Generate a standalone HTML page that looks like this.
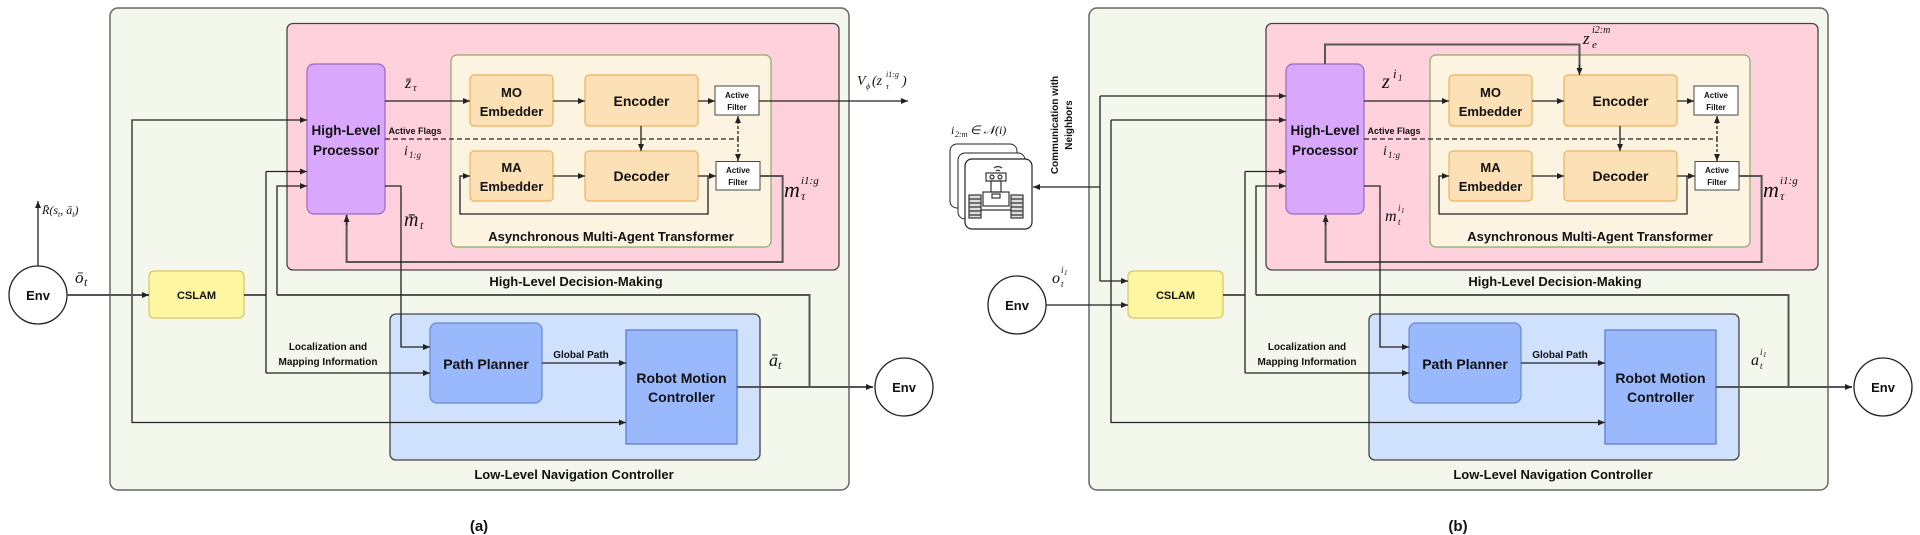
<!DOCTYPE html>
<html><head><meta charset="utf-8"><style>
html,body{margin:0;padding:0;background:#fff;}
svg{display:block;}
.b{font-family:"Liberation Sans",sans-serif;font-weight:bold;fill:#111;text-anchor:middle;}
.m{font-family:"Liberation Serif",serif;font-style:italic;fill:#111;}
.ln{fill:none;stroke:#222;stroke-width:1.3;}
.lg{fill:none;stroke:#555;stroke-width:2;}
</style></head><body>
<svg width="1920" height="535" viewBox="0 0 1920 535" xmlns="http://www.w3.org/2000/svg">
<defs>
<marker id="ar" markerWidth="8" markerHeight="8" refX="7" refY="4" orient="auto" markerUnits="userSpaceOnUse"><path d="M0,1 L7,4 L0,7 z" fill="#222"/></marker>
</defs>

<!-- ================= PANEL A ================= -->
<g>
<rect x="110" y="8" width="739" height="482" rx="8" fill="#f4f7eb" stroke="#666" stroke-width="1.5"/>
<rect x="287" y="23.5" width="552" height="246.5" rx="6" fill="#ffd1dd" stroke="#444" stroke-width="1.3"/>
<rect x="451" y="55" width="320" height="192" rx="6" fill="#fdf3e1" stroke="#8aaa6a" stroke-width="1.2"/>
<rect x="307" y="64" width="78" height="150" rx="7" fill="#d9a7fb" stroke="#9a6ac0" stroke-width="1.2"/>
<text class="b" x="346" y="135" font-size="13.5">High-Level</text>
<text class="b" x="346" y="155" font-size="13.5">Processor</text>
<rect x="470" y="75" width="83" height="51" rx="4" fill="#fde1b6" stroke="#eeb25a" stroke-width="1.2"/>
<text class="b" x="511.5" y="97" font-size="13">MO</text><text class="b" x="511.5" y="116" font-size="13">Embedder</text>
<rect x="585" y="75" width="113" height="51" rx="4" fill="#fde1b6" stroke="#eeb25a" stroke-width="1.2"/>
<text class="b" x="641.5" y="106" font-size="14">Encoder</text>
<rect x="715" y="86" width="44" height="29" fill="#fff" stroke="#444"/>
<text class="b" x="737" y="98" font-size="8">Active</text><text class="b" x="737" y="110" font-size="8">Filter</text>
<rect x="470" y="151" width="83" height="50" rx="4" fill="#fde1b6" stroke="#eeb25a" stroke-width="1.2"/>
<text class="b" x="511.5" y="172" font-size="13">MA</text><text class="b" x="511.5" y="191" font-size="13">Embedder</text>
<rect x="585" y="151" width="113" height="50" rx="4" fill="#fde1b6" stroke="#eeb25a" stroke-width="1.2"/>
<text class="b" x="641.5" y="181" font-size="14">Decoder</text>
<rect x="716" y="161.5" width="44" height="28.5" fill="#fff" stroke="#444"/>
<text class="b" x="738" y="173" font-size="8">Active</text><text class="b" x="738" y="185" font-size="8">Filter</text>
<text class="b" x="611" y="241" font-size="13">Asynchronous Multi-Agent Transformer</text>
<text class="b" x="576" y="286" font-size="13">High-Level Decision-Making</text>
<rect x="390" y="314" width="370" height="146" rx="6" fill="#d0e1fe" stroke="#444" stroke-width="1.3"/>
<rect x="430" y="323" width="112" height="80" rx="7" fill="#9ab9fd" stroke="#6688cc" stroke-width="1.2"/>
<text class="b" x="486" y="369" font-size="14">Path Planner</text>
<rect x="626" y="330" width="111" height="114" fill="#9ab9fd" stroke="#5577cc" stroke-width="1.2"/>
<text class="b" x="681.5" y="383" font-size="14">Robot Motion</text><text class="b" x="681.5" y="402" font-size="14">Controller</text>
<text class="b" x="574" y="479" font-size="13">Low-Level Navigation Controller</text>
<rect x="149" y="271" width="95" height="47" rx="5" fill="#fef6a0" stroke="#d8c860" stroke-width="1.2"/>
<text class="b" x="196.5" y="299" font-size="11">CSLAM</text>
<text class="b" x="328" y="350" font-size="10">Localization and</text>
<text class="b" x="328" y="365" font-size="10">Mapping Information</text>
<text class="b" x="581" y="358" font-size="10">Global Path</text>
<text class="b" x="415" y="134" font-size="9">Active Flags</text>
<path class="lg" d="M244,295 H266"/>
<path class="ln" d="M266,171.5 V373"/>
<path class="ln" d="M266,171.5 H307" marker-end="url(#ar)"/>
<path class="ln" d="M266,373 H430" marker-end="url(#ar)"/>
<path class="ln" d="M277,295 V186 H307" marker-end="url(#ar)"/>
<path class="lg" d="M277,295 H809.5 V387"/>
<path class="lg" d="M737,387 H873" marker-end="url(#ar)"/>
<path class="ln" d="M132,295 V120 H307" marker-end="url(#ar)"/>
<path class="ln" d="M132,295 V422.5 H626" marker-end="url(#ar)"/>
<path class="ln" d="M385,101 H470" marker-end="url(#ar)"/>
<path class="ln" d="M553,101 H585" marker-end="url(#ar)"/>
<path class="ln" d="M698,101 H715" marker-end="url(#ar)"/>
<path class="ln" d="M641,126 V151" marker-end="url(#ar)"/>
<path class="ln" d="M553,176 H585" marker-end="url(#ar)"/>
<path class="ln" d="M698,176 H716" marker-end="url(#ar)"/>
<path class="ln" d="M708,176 V214 H460 V176 H470" marker-end="url(#ar)"/>
<path class="ln" d="M385,139 H738" stroke-dasharray="5,3"/>
<path class="ln" d="M738,139 V116" stroke-dasharray="3,2" marker-end="url(#ar)"/>
<path class="ln" d="M738,139 V161" stroke-dasharray="3,2" marker-end="url(#ar)"/>
<path class="lg" d="M760,176 H782.6 V262 H346.6 V215"/>
<path class="ln" d="M346.6,225 V215" marker-end="url(#ar)"/>
<path class="ln" d="M385,186 H401 V347 H430" marker-end="url(#ar)"/>
<path class="ln" d="M542,363 H626" marker-end="url(#ar)"/>
<ellipse cx="38" cy="295" rx="29" ry="29" fill="#fff" stroke="#222" stroke-width="1.3"/>
<text class="b" x="38" y="300" font-size="13">Env</text>
<path class="lg" d="M67,295 H149" marker-end="url(#ar)"/>
<path class="ln" d="M38,266 V201" marker-end="url(#ar)"/>
<text class="m" x="42" y="214" font-size="12">R̄(s<tspan font-size="8" dy="3">t</tspan><tspan dy="-3">, ā</tspan><tspan font-size="8" dy="3">t</tspan><tspan dy="-3">)</tspan></text>
<text class="m" x="75" y="283" font-size="17">ō</text><text class="m" x="84" y="286" font-size="12">t</text>
<ellipse cx="904" cy="387" rx="29" ry="29" fill="#fff" stroke="#222" stroke-width="1.3"/>
<text class="b" x="904" y="392" font-size="13">Env</text>
<path class="ln" d="M759,101 H908" marker-end="url(#ar)"/>
<text class="m" x="857" y="85" font-size="14">V</text>
<text class="m" x="866" y="89" font-size="8">ϕ</text>
<text class="m" x="872" y="85" font-size="14">(z</text>
<text class="m" x="886" y="77" font-size="8">i1:g</text>
<text class="m" x="886" y="89" font-size="8">τ</text>
<text class="m" x="902" y="85" font-size="14">)</text>
<text class="m" x="405" y="88" font-size="16">z̄</text><text class="m" x="413" y="91" font-size="10">τ</text>
<text class="m" x="404" y="155" font-size="14">i</text><text class="m" x="409" y="158" font-size="9">1:g</text>
<text class="m" x="404" y="226" font-size="20">m̄</text><text class="m" x="420" y="229" font-size="12">t</text>
<text class="m" x="784" y="197" font-size="22">m</text>
<text class="m" x="801" y="184" font-size="11">i1:g</text>
<text class="m" x="801" y="200" font-size="12">τ</text>
<text class="m" x="769" y="366" font-size="18">ā</text><text class="m" x="778" y="369" font-size="12">t</text>
<text class="b" x="479" y="531" font-size="15">(a)</text>
</g>

<!-- ================= PANEL B ================= -->
<g transform="translate(979,0)">
<rect x="110" y="8" width="739" height="482" rx="8" fill="#f4f7eb" stroke="#666" stroke-width="1.5"/>
<rect x="287" y="23.5" width="552" height="246.5" rx="6" fill="#ffd1dd" stroke="#444" stroke-width="1.3"/>
<rect x="451" y="55" width="320" height="192" rx="6" fill="#fdf3e1" stroke="#8aaa6a" stroke-width="1.2"/>
<rect x="307" y="64" width="78" height="150" rx="7" fill="#d9a7fb" stroke="#9a6ac0" stroke-width="1.2"/>
<text class="b" x="346" y="135" font-size="13.5">High-Level</text>
<text class="b" x="346" y="155" font-size="13.5">Processor</text>
<rect x="470" y="75" width="83" height="51" rx="4" fill="#fde1b6" stroke="#eeb25a" stroke-width="1.2"/>
<text class="b" x="511.5" y="97" font-size="13">MO</text><text class="b" x="511.5" y="116" font-size="13">Embedder</text>
<rect x="585" y="75" width="113" height="51" rx="4" fill="#fde1b6" stroke="#eeb25a" stroke-width="1.2"/>
<text class="b" x="641.5" y="106" font-size="14">Encoder</text>
<rect x="715" y="86" width="44" height="29" fill="#fff" stroke="#444"/>
<text class="b" x="737" y="98" font-size="8">Active</text><text class="b" x="737" y="110" font-size="8">Filter</text>
<rect x="470" y="151" width="83" height="50" rx="4" fill="#fde1b6" stroke="#eeb25a" stroke-width="1.2"/>
<text class="b" x="511.5" y="172" font-size="13">MA</text><text class="b" x="511.5" y="191" font-size="13">Embedder</text>
<rect x="585" y="151" width="113" height="50" rx="4" fill="#fde1b6" stroke="#eeb25a" stroke-width="1.2"/>
<text class="b" x="641.5" y="181" font-size="14">Decoder</text>
<rect x="716" y="161.5" width="44" height="28.5" fill="#fff" stroke="#444"/>
<text class="b" x="738" y="173" font-size="8">Active</text><text class="b" x="738" y="185" font-size="8">Filter</text>
<text class="b" x="611" y="241" font-size="13">Asynchronous Multi-Agent Transformer</text>
<text class="b" x="576" y="286" font-size="13">High-Level Decision-Making</text>
<rect x="390" y="314" width="370" height="146" rx="6" fill="#d0e1fe" stroke="#444" stroke-width="1.3"/>
<rect x="430" y="323" width="112" height="80" rx="7" fill="#9ab9fd" stroke="#6688cc" stroke-width="1.2"/>
<text class="b" x="486" y="369" font-size="14">Path Planner</text>
<rect x="626" y="330" width="111" height="114" fill="#9ab9fd" stroke="#5577cc" stroke-width="1.2"/>
<text class="b" x="681.5" y="383" font-size="14">Robot Motion</text><text class="b" x="681.5" y="402" font-size="14">Controller</text>
<text class="b" x="574" y="479" font-size="13">Low-Level Navigation Controller</text>
<rect x="149" y="271" width="95" height="47" rx="5" fill="#fef6a0" stroke="#d8c860" stroke-width="1.2"/>
<text class="b" x="196.5" y="299" font-size="11">CSLAM</text>
<text class="b" x="328" y="350" font-size="10">Localization and</text>
<text class="b" x="328" y="365" font-size="10">Mapping Information</text>
<text class="b" x="581" y="358" font-size="10">Global Path</text>
<text class="b" x="415" y="134" font-size="9">Active Flags</text>
<path class="lg" d="M244,295 H266"/>
<path class="ln" d="M266,171.5 V373"/>
<path class="ln" d="M266,171.5 H307" marker-end="url(#ar)"/>
<path class="ln" d="M266,373 H430" marker-end="url(#ar)"/>
<path class="ln" d="M277,295 V186 H307" marker-end="url(#ar)"/>
<path class="lg" d="M277,295 H809.5 V387"/>
<path class="lg" d="M737,387 H873" marker-end="url(#ar)"/>
<path class="ln" d="M132,120 H307" marker-end="url(#ar)"/>
<path class="ln" d="M132,120 V422.5 H626" marker-end="url(#ar)"/>
<path class="ln" d="M385,101 H470" marker-end="url(#ar)"/>
<path class="ln" d="M553,101 H585" marker-end="url(#ar)"/>
<path class="ln" d="M698,101 H715" marker-end="url(#ar)"/>
<path class="ln" d="M641,126 V151" marker-end="url(#ar)"/>
<path class="ln" d="M553,176 H585" marker-end="url(#ar)"/>
<path class="ln" d="M698,176 H716" marker-end="url(#ar)"/>
<path class="ln" d="M708,176 V214 H460 V176 H470" marker-end="url(#ar)"/>
<path class="ln" d="M385,139 H738" stroke-dasharray="5,3"/>
<path class="ln" d="M738,139 V116" stroke-dasharray="3,2" marker-end="url(#ar)"/>
<path class="ln" d="M738,139 V161" stroke-dasharray="3,2" marker-end="url(#ar)"/>
<path class="lg" d="M760,176 H782.6 V262 H346.6 V215"/>
<path class="ln" d="M346.6,225 V215" marker-end="url(#ar)"/>
<path class="ln" d="M385,186 H401 V347 H430" marker-end="url(#ar)"/>
<path class="ln" d="M542,363 H626" marker-end="url(#ar)"/>
<path class="lg" d="M346,64 V44.5 H600.5 V68" stroke-width="1.5"/>
<path class="ln" d="M600.5,65 V75" marker-end="url(#ar)"/>
<text class="m" x="604" y="44" font-size="17">z</text>
<text class="m" x="613" y="33" font-size="10">i2:m</text>
<text class="m" x="613" y="48" font-size="11">e</text>
<text class="m" x="403" y="88" font-size="20">z</text>
<text class="m" x="414" y="78" font-size="13">i</text><text class="m" x="419" y="81" font-size="9">1</text>
<text class="m" x="404" y="155" font-size="14">i</text><text class="m" x="409" y="158" font-size="9">1:g</text>
<text class="m" x="406" y="221" font-size="16">m</text>
<text class="m" x="419" y="211" font-size="9">i</text><text class="m" x="422" y="213" font-size="7">1</text>
<text class="m" x="419" y="225" font-size="9">t</text>
<text class="m" x="784" y="197" font-size="22">m</text>
<text class="m" x="801" y="184" font-size="11">i1:g</text>
<text class="m" x="801" y="200" font-size="12">τ</text>
<text class="m" x="772" y="365" font-size="16">a</text>
<text class="m" x="781" y="355" font-size="9">i</text><text class="m" x="784" y="357" font-size="7">1</text>
<text class="m" x="781" y="369" font-size="9">t</text>
<ellipse cx="904" cy="387" rx="29" ry="29" fill="#fff" stroke="#222" stroke-width="1.3"/>
<text class="b" x="904" y="392" font-size="13">Env</text>
<text class="b" x="479" y="531" font-size="15">(b)</text>
</g>

<ellipse cx="1017" cy="305" rx="29" ry="29" fill="#fff" stroke="#222" stroke-width="1.3"/>
<text class="b" x="1017" y="310" font-size="13">Env</text>
<path class="ln" d="M1046,305 H1128" marker-end="url(#ar)"/>
<text class="m" x="1052" y="283" font-size="16">o</text>
<text class="m" x="1061" y="273" font-size="9">i</text><text class="m" x="1064" y="275" font-size="7">1</text>
<text class="m" x="1061" y="287" font-size="9">t</text>
<path class="ln" d="M1100,96 V281"/>
<path class="ln" d="M1100,96 H1286" marker-end="url(#ar)"/>
<path class="ln" d="M1100,281 H1128" marker-end="url(#ar)"/>
<path class="ln" d="M1100,187 H1033" marker-end="url(#ar)"/>
<text class="b" font-size="10" transform="translate(1058,125) rotate(-90)">Communication with</text>
<text class="b" font-size="10" transform="translate(1072,125) rotate(-90)">Neighbors</text>
<text class="m" x="951" y="134" font-size="12">i</text>
<text class="m" x="955" y="137" font-size="8">2:m</text>
<text class="m" x="970" y="134" font-size="12">∈ 𝒩(i)</text>
<rect x="950" y="144" width="67" height="64" rx="7" fill="#fff" stroke="#222" stroke-width="1"/>
<rect x="958" y="153" width="67" height="66" rx="7" fill="#fff" stroke="#222" stroke-width="1"/>
<rect x="965" y="159" width="67" height="70" rx="7" fill="#fff" stroke="#222" stroke-width="1.2"/>
<g fill="none" stroke="#333" stroke-width="1.2">
<path d="M994,168 q4,-3 8,0 M996,171 q2,-1.5 4,0"/>
<rect x="986" y="173" width="20" height="8"/>
<circle cx="992" cy="177" r="2"/><circle cx="1000" cy="177" r="2"/>
<rect x="991" y="181" width="10" height="11"/>
<rect x="983" y="192" width="26" height="14"/>
<rect x="992" y="194" width="8" height="4"/>
<rect x="969" y="195" width="12" height="23" fill="#ddd"/>
<rect x="1011" y="195" width="12" height="23" fill="#ddd"/>
<path d="M969,199 h12 M969,203 h12 M969,207 h12 M969,211 h12 M969,215 h12 M1011,199 h12 M1011,203 h12 M1011,207 h12 M1011,211 h12 M1011,215 h12"/>
<path d="M981,210 h30"/>
</g>
</svg>
</body></html>
